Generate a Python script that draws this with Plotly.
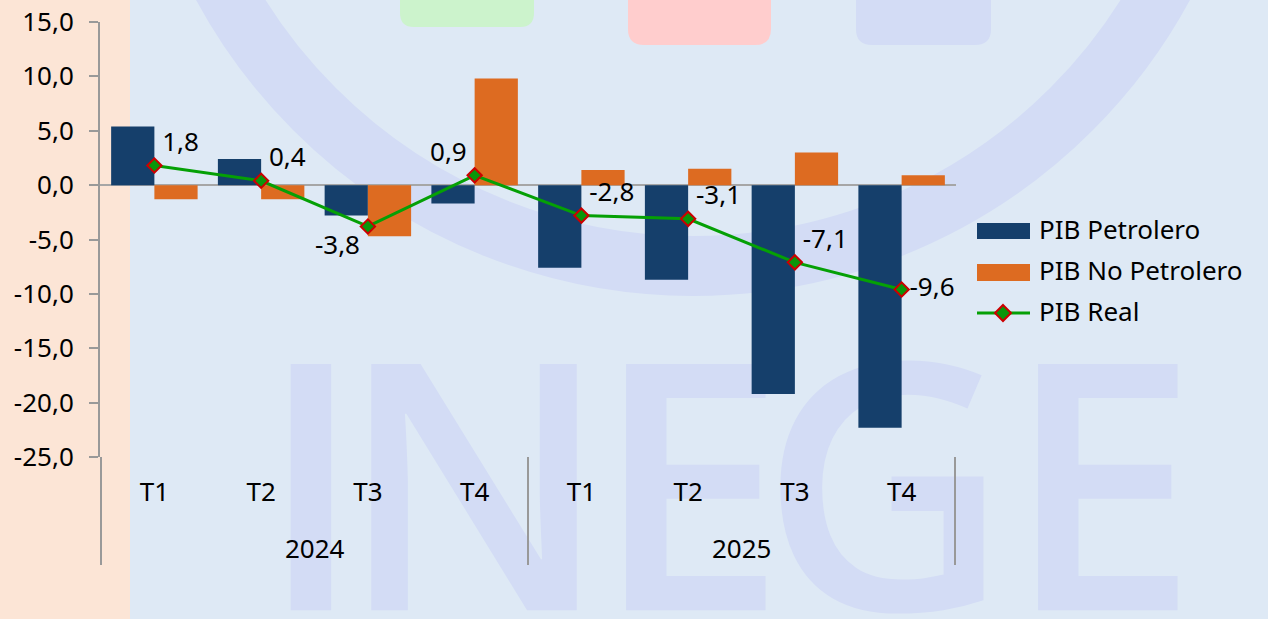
import plotly.graph_objects as go

# data
years = ["2024", "2024", "2024", "2024", "2025", "2025", "2025", "2025"]
quarters = ["T1", "T2", "T3", "T4", "T1", "T2", "T3", "T4"]
pib_petrolero = [5.4, 2.4, -2.8, -1.7, -7.6, -8.7, -19.2, -22.3]
pib_no_petrolero = [-1.3, -1.3, -4.7, 9.8, 1.4, 1.5, 3.0, 0.9]
pib_real = [1.8, 0.4, -3.8, 0.9, -2.8, -3.1, -7.1, -9.6]
y_ticks = [15, 10, 5, 0, -5, -10, -15, -20, -25]
y_tick_labels = ["15,0", "10,0", "5,0", "0,0", "-5,0", "-10,0", "-15,0", "-20,0", "-25,0"]
series_names = ["PIB Petrolero", "PIB No Petrolero", "PIB Real"]

# where each data label sits relative to its point
label_pos = ["top right", "top right", "bottom left", "top left",
             "top right", "top right", "top right", "middle right"]

W, H = 1268, 619
FONT = "Noto Sans"
BG = "#DEE9F5"
WM = "#D3DCF5"          # watermark blue
C_PET = "#153F6B"
C_NOP = "#DD6B21"
C_LINE = "#05A005"
AX = "#999999"

# unique category keys, shown with the quarter only
cats = [f"{y} {q}" for y, q in zip(years, quarters)]

fig = go.Figure()

# ---- background watermark, drawn on a full-figure pixel subplot (x / y)
wm_letters = ["I", "N", "E", "G", "E"]
wm_x = [311, 474, 690, 885, 1102]
fig.add_trace(go.Scatter(
    x=wm_x, y=[524] * 5, text=wm_letters, mode="text",
    textfont=dict(family="Open Sans", size=345, color=WM, weight=600),
    textposition="middle center", showlegend=False, hoverinfo="skip",
    cliponaxis=False, xaxis="x", yaxis="y"))

# ---- chart on x2 / y2
fig.add_trace(go.Bar(
    x=cats, y=pib_petrolero, name=series_names[0],
    marker=dict(color=C_PET, line=dict(width=0)),
    xaxis="x2", yaxis="y2", showlegend=False))
fig.add_trace(go.Bar(
    x=cats, y=pib_no_petrolero, name=series_names[1],
    marker=dict(color=C_NOP, line=dict(width=0)),
    xaxis="x2", yaxis="y2", showlegend=False))
fig.add_trace(go.Scatter(
    x=cats, y=pib_real, name=series_names[2], mode="lines+markers+text",
    line=dict(color=C_LINE, width=3),
    marker=dict(symbol="diamond", size=11, color="#0A960A",
                line=dict(color="#CC0000", width=2)),
    text=[f"{v:.1f}".replace(".", ",") for v in pib_real],
    textposition=label_pos,
    textfont=dict(family=FONT, size=26, color="#000000"),
    xaxis="x2", yaxis="y2", showlegend=False))

shapes = [
    # peach strip on the left
    dict(type="rect", xref="x", yref="y", x0=0, x1=130, y0=0, y1=H,
         fillcolor="#FCE5D6", line=dict(width=0), layer="below"),
    # big ring of the logo
    dict(type="circle", xref="x", yref="y", x0=693 - 535, x1=693 + 535,
         y0=-269 - 535, y1=-269 + 535, line=dict(color=WM, width=60),
         fillcolor="rgba(0,0,0,0)", layer="below"),
]


def rounded_box(x0, x1, y1, r, color):
    path = (f"M{x0},0 L{x0},{y1 - r} Q{x0},{y1} {x0 + r},{y1} "
            f"L{x1 - r},{y1} Q{x1},{y1} {x1},{y1 - r} L{x1},0 Z")
    return dict(type="path", xref="x", yref="y", path=path, fillcolor=color,
                line=dict(width=0), layer="below")


shapes += [rounded_box(400, 534, 27, 14, "#CCF3CC"),
           rounded_box(628, 771, 45, 16, "#FFCDCD"),
           rounded_box(856, 991, 45, 16, WM)]

# ---- year level of the category axis: dividers + centred year labels
div_y0, div_y1 = 1 - 457 / H, 1 - 565 / H
annotations = []
bounds = [-0.5]
for i in range(1, len(years)):
    if years[i] != years[i - 1]:
        bounds.append(i - 0.5)
bounds.append(len(years) - 0.5)
for b in bounds:
    shapes.append(dict(type="line", xref="x2", yref="paper", x0=b, x1=b,
                       y0=div_y0, y1=div_y1, line=dict(color=AX, width=2)))
for k in range(len(bounds) - 1):
    annotations.append(dict(
        x=(bounds[k] + bounds[k + 1]) / 2, y=1 - 548 / H, xref="x2",
        yref="paper", text=years[int(bounds[k] + 0.5)], showarrow=False,
        xanchor="center", yanchor="middle",
        font=dict(family=FONT, size=26, color="#000000")))

# ---- legend (hand drawn so the swatches are wide like the original)
shapes += [
    dict(type="rect", xref="x", yref="y", x0=977, x1=1030, y0=223, y1=239,
         fillcolor=C_PET, line=dict(width=0)),
    dict(type="rect", xref="x", yref="y", x0=977, x1=1030, y0=264, y1=281,
         fillcolor=C_NOP, line=dict(width=0)),
    dict(type="line", xref="x", yref="y", x0=977, x1=1030, y0=313, y1=313,
         line=dict(color=C_LINE, width=3)),
    dict(type="path", xref="x", yref="y",
         path="M1003,305 L1011,313 L1003,321 L995,313 Z",
         fillcolor="#0A960A", line=dict(color="#CC0000", width=2)),
]
for name, ly in zip(series_names, [229, 270, 311]):
    annotations.append(dict(
        x=1037, y=ly, xref="x", yref="y", text=name, showarrow=False,
        xanchor="left", yanchor="middle",
        font=dict(family=FONT, size=26, color="#000000")))

fig.update_layout(
    width=W, height=H,
    margin=dict(l=0, r=0, t=0, b=0, autoexpand=False),
    paper_bgcolor=BG, plot_bgcolor="rgba(0,0,0,0)",
    font=dict(family=FONT, size=26, color="#000000"),
    barmode="group", bargap=0.19, bargroupgap=0,
    showlegend=False,
    shapes=shapes, annotations=annotations,
    xaxis=dict(domain=[0, 1], range=[0, W], visible=False, fixedrange=True,
               automargin=False),
    yaxis=dict(domain=[0, 1], range=[H, 0], visible=False, fixedrange=True,
               automargin=False),
    xaxis2=dict(domain=[100 / W, 956 / W], anchor="y2", type="category",
                tickvals=cats, ticktext=quarters, automargin=False,
                showline=False, showgrid=False, zeroline=False, ticks="",
                ticklabelstandoff=17,
                tickfont=dict(family=FONT, size=26, color="#000000")),
    yaxis2=dict(domain=[1 - 457 / H, 1 - 22 / H], anchor="x2",
                range=[-25, 15], tickvals=y_ticks, ticktext=y_tick_labels,
                automargin=False,
                showline=True, linecolor=AX, linewidth=2,
                ticks="outside", ticklen=9, tickcolor=AX, tickwidth=2,
                showgrid=False, zeroline=True, zerolinecolor="#A6A6A6",
                zerolinewidth=2, ticklabelstandoff=10,
                tickfont=dict(family=FONT, size=26, color="#000000")),
)

fig.write_html("out.html", config={"displayModeBar": False},
               post_script="document.body.style.margin='0';")
